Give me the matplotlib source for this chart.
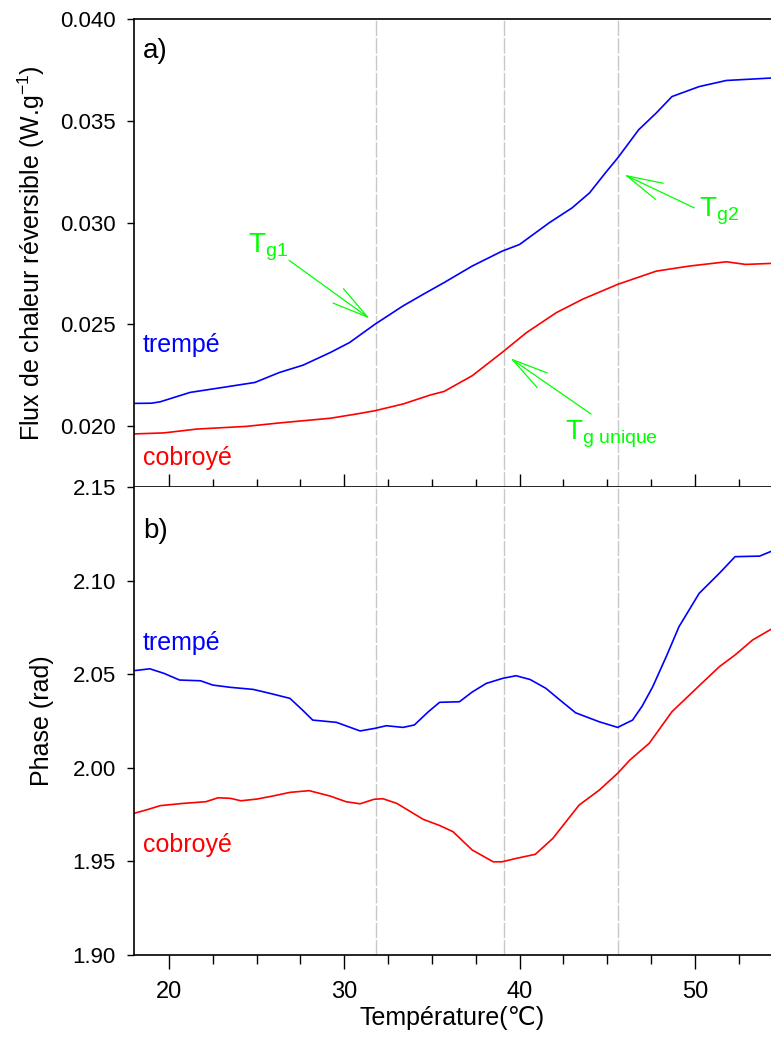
import matplotlib.pyplot as plt
from matplotlib.ticker import MultipleLocator, FormatStrFormatter

plt.rcParams['font.family'] = ['Liberation Sans', 'DejaVu Sans']
plt.rcParams['mathtext.fontset'] = 'custom'
plt.rcParams['mathtext.rm'] = 'Liberation Sans'
plt.rcParams['mathtext.it'] = 'Liberation Sans'

# a) flux de chaleur réversible
temp_flux_trempe = [18.0, 19.0, 19.5, 21.2, 23.1, 24.9, 26.3, 27.65, 29.2, 30.3,
                    31.75, 33.35, 34.5, 35.7, 37.3, 39.0, 40.0, 41.7, 43.0, 44.0,
                    44.9, 45.6, 46.8, 47.8, 48.7, 50.25, 51.8, 54.35]
flux_trempe = [0.02111, 0.02112, 0.02119, 0.02165, 0.02190, 0.02214, 0.02263, 0.02299,
               0.02361, 0.02410, 0.02500, 0.02590, 0.02647, 0.02705, 0.02786, 0.02859,
               0.02892, 0.02999, 0.03072, 0.03146, 0.03244, 0.03317, 0.03456, 0.03538,
               0.03619, 0.03668, 0.03698, 0.03710]

temp_flux_cobroye = [18.0, 19.7, 21.6, 24.4, 26.3, 29.2, 30.7, 31.75, 33.35, 34.9,
                     35.7, 37.3, 39.0, 40.4, 42.1, 43.6, 45.6, 47.8, 49.7, 51.8,
                     52.9, 54.35]
flux_cobroye = [0.01961, 0.01966, 0.01985, 0.01998, 0.02015, 0.02038, 0.02059, 0.02075,
                0.02108, 0.02152, 0.02170, 0.02247, 0.02361, 0.02459, 0.02557, 0.02623,
                0.02696, 0.02761, 0.02786, 0.02807, 0.02794, 0.02799]

# b) phase
temp_phase_trempe = [18.0, 18.9, 19.7, 20.6, 21.8, 22.5, 23.5, 24.8, 25.75, 26.9,
                     27.6, 28.2, 29.55, 30.9, 31.75, 32.4, 33.35, 34.0, 34.8, 35.44,
                     36.57, 37.3, 38.1, 39.04, 39.8, 40.6, 41.5, 42.4, 43.2, 44.55,
                     45.6, 46.45, 47.0, 47.6, 48.4, 49.1, 50.25, 51.4, 52.3, 53.7,
                     54.35]
phase_trempe = [2.0519, 2.0529, 2.0505, 2.0469, 2.0465, 2.0442, 2.0430, 2.0419, 2.0398,
                2.0371, 2.0310, 2.0255, 2.0243, 2.0197, 2.0211, 2.0225, 2.0216, 2.0229,
                2.0300, 2.0350, 2.0353, 2.0405, 2.0451, 2.0478, 2.0492, 2.0472, 2.0425,
                2.0355, 2.0294, 2.0246, 2.0216, 2.0255, 2.0330, 2.0433, 2.0600, 2.0754,
                2.0932, 2.1039, 2.1128, 2.1131, 2.1156]

temp_phase_cobroye = [18.0, 18.7, 19.5, 20.8, 22.1, 22.8, 23.5, 24.1, 25.0, 25.9,
                      26.9, 28.0, 29.2, 30.1, 30.9, 31.7, 32.2, 33.0, 34.5, 35.44,
                      36.2, 37.3, 38.5, 39.0, 39.8, 40.9, 41.9, 43.4, 44.55, 45.6,
                      46.3, 47.4, 48.7, 50.1, 51.4, 52.3, 53.3, 54.35]
phase_cobroye = [1.9757, 1.9775, 1.9798, 1.9810, 1.9819, 1.9840, 1.9837, 1.9824, 1.9833,
                 1.9849, 1.9869, 1.9878, 1.9849, 1.9819, 1.9808, 1.9832, 1.9835, 1.9810,
                 1.9725, 1.9692, 1.9659, 1.9561, 1.9498, 1.9498, 1.9516, 1.9538, 1.9623,
                 1.9801, 1.9881, 1.9971, 2.0042, 2.0131, 2.0300, 2.0425, 2.0540, 2.0603,
                 2.0683, 2.0740]

# transitions vitreuses
t_transitions = [31.8, 39.1, 45.6]

vert = '#00ff00'

fig = plt.figure(figsize=(7.71, 10.40), dpi=100)
ax1 = fig.add_axes([0.1738, 0.5317, 0.8262, 0.45])
ax2 = fig.add_axes([0.1738, 0.0817, 0.8262, 0.45], sharex=ax1)

for ax in (ax1, ax2):
    for t in t_transitions:
        ax.axvline(t, color='#c8c8c8', lw=1.0, dashes=(11, 1.5), zorder=1)
    ax.spines['right'].set_visible(False)
    for s in ('left', 'top', 'bottom'):
        ax.spines[s].set_linewidth(1.2)
    ax.tick_params(axis='y', direction='out', length=5, width=1, pad=8, labelsize=16)

# panneau a
ax1.plot(temp_flux_trempe, flux_trempe, color='#0000ff', lw=1.2)
ax1.plot(temp_flux_cobroye, flux_cobroye, color='#ff0000', lw=1.2)
ax1.set_xlim(18, 54.35)
ax1.set_ylim(0.017, 0.040)
ax1.set_yticks([0.020, 0.025, 0.030, 0.035, 0.040])
ax1.yaxis.set_major_formatter(FormatStrFormatter('%.3f'))
ax1.xaxis.set_major_locator(MultipleLocator(10))
ax1.xaxis.set_minor_locator(MultipleLocator(2.5))
ax1.tick_params(axis='x', which='major', direction='inout', length=19, width=1, labelbottom=False)
ax1.tick_params(axis='x', which='minor', direction='in', length=6, width=1)
ax1.set_ylabel(r'Flux de chaleur réversible (W.g$^{\mathregular{-1}}$)', fontsize=18)
ax1.yaxis.set_label_coords(-0.137, 0.5)

ax1.text(18.5, 0.03809, 'a)', fontsize=20)
ax1.text(18.51, 0.02363, 'trempé', color='#0000ff', fontsize=18)
ax1.text(18.51, 0.01809, 'cobroyé', color='#ff0000', fontsize=18)

fleche = dict(arrowstyle='->,head_length=1.3,head_width=0.32', color=vert, lw=0.9,
              shrinkA=0, shrinkB=0, mutation_scale=20)
ax1.annotate('', xy=(31.45, 0.02528), xytext=(26.85, 0.02814), arrowprops=fleche)
ax1.annotate('', xy=(45.98, 0.03235), xytext=(49.97, 0.03072), arrowprops=fleche)
ax1.annotate('', xy=(39.48, 0.02333), xytext=(44.08, 0.02059), arrowprops=fleche)
ax1.text(24.5, 0.02853, r'$\mathregular{T_{g1}}$', color=vert, fontsize=20)
ax1.text(50.25, 0.03029, r'$\mathregular{T_{g2}}$', color=vert, fontsize=20)
ax1.text(42.6, 0.01936, r'$\mathregular{T_{g\ unique}}$', color=vert, fontsize=20)

# panneau b
ax2.plot(temp_phase_trempe, phase_trempe, color='#0000ff', lw=1.2)
ax2.plot(temp_phase_cobroye, phase_cobroye, color='#ff0000', lw=1.2)
ax2.set_ylim(1.90, 2.15)
ax2.yaxis.set_major_locator(MultipleLocator(0.05))
ax2.yaxis.set_major_formatter(FormatStrFormatter('%.2f'))
ax2.spines['top'].set_visible(False)
ax2.tick_params(axis='x', which='major', direction='out', length=10, width=1, pad=9, labelsize=17)
ax2.tick_params(axis='x', which='minor', direction='out', length=6.5, width=1)
ax2.set_xlabel('Température(℃)', fontsize=18, labelpad=2)
ax2.set_ylabel('Phase (rad)', fontsize=18)
ax2.yaxis.set_label_coords(-0.125, 0.5)

ax2.text(18.5, 2.1228, 'b)', fontsize=20)
ax2.text(18.51, 2.0629, 'trempé', color='#0000ff', fontsize=18)
ax2.text(18.51, 1.955, 'cobroyé', color='#ff0000', fontsize=18)

fig.savefig('out.png', dpi=100)
